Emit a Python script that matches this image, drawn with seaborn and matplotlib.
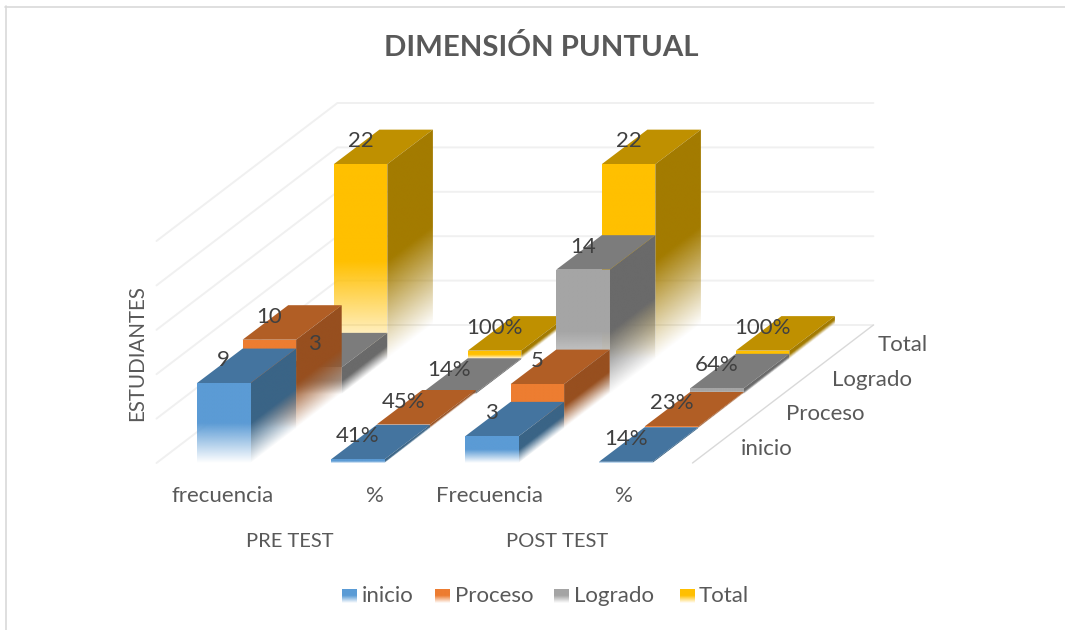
"""
Dimensión puntual : barres 3D (pre test / post test) en projection oblique
"""

import numpy as np
import matplotlib.pyplot as plt
from matplotlib.colors import to_rgb
from matplotlib.lines import Line2D
from matplotlib.patches import Polygon
from matplotlib.transforms import Affine2D
import seaborn as sns

# Données
CATEGORIES = ['frecuencia', '%', 'Frecuencia', '%']
GROUPS = ['PRE TEST', 'POST TEST']
SERIES = ['inicio', 'Proceso', 'Logrado', 'Total']
inicio = [9, 0.41, 3, 0.14]
proceso = [10, 0.45, 5, 0.23]
logrado = [3, 0.14, 14, 0.64]
total = [22, 1.00, 22, 1.00]
inicio_labels = ['9', '41%', '3', '14%']
proceso_labels = ['10', '45%', '5', '23%']
logrado_labels = ['3', '14%', '14', '64%']
total_labels = ['22', '100%', '22', '100%']
VALUE_TICKS = [0, 5, 10, 15, 20, 25]

# Couleurs (face avant, dessus, côté)
FRONT = sns.color_palette(['#5B9BD5', '#ED7D31', '#A5A5A5', '#FFC000'])
TOP = sns.color_palette(['#44749F', '#B15E25', '#7C7C7C', '#BF9000'])
SIDE = sns.color_palette(['#3A6486', '#974F1F', '#6A6A6A', '#A37B00'])
TEXT = '#595959'
LABEL = '#404040'

# Géométrie en pixels
W, H = 1065, 630
CELL = 134.0
UNIT = 8.88
X0, Y0 = 156.5, 463.0
ROW_DX, ROW_DY = 45.6, 34.5
BAR_W = 53.5 / CELL
BAR_OFF = 40.5 / CELL

# Positions des textes en pixels
CATEGORY_X = [223, 375, 490, 624]
GROUP_X = [290, 557]
SERIES_POS = [(767, 449), (825, 414), (872, 380), (903, 345)]
LEGEND_SWATCH_X = [342, 435, 554, 680]
LEGEND_TEXT_X = [362, 455, 574, 699]

sns.set_theme(style='white')
plt.rcParams['font.family'] = ['Lato', 'DejaVu Sans']

fig = plt.figure(figsize=(W / 100, H / 100), dpi=100, facecolor='white')
ax = fig.add_axes([0, 0, 1, 1])
ax.axis('off')
pixels = Affine2D().scale(1 / W, -1 / H).translate(0, 1) + fig.transFigure
row_dx, row_dy = ROW_DX / CELL, ROW_DY / UNIT


def data_x(px):
    return (px - X0) / CELL


def data_y(py):
    return (Y0 - py) / UNIT


def gradient_face(pts, color, rise, zorder):
    """Face qui s'efface vers le bas ; rise = pente des isolignes"""
    pts = np.array(pts)
    x0, x1 = pts[:, 0].min(), pts[:, 0].max()
    y0, y1 = pts[:, 1].min(), pts[:, 1].max()
    height = y1 - y0 - rise * (x1 - x0)
    xs, ys = np.meshgrid(np.linspace(x0, x1, 60), np.linspace(y0, y1, 300))
    level = (ys - y0 - rise * (xs - x0)) / max(height, 1e-6)
    rgba = np.ones(xs.shape + (4,))
    rgba[..., :3] = to_rgb(color)
    rgba[..., 3] = np.clip(level / 0.5, 0, 1)
    img = ax.imshow(rgba, extent=(x0, x1, y0, y1), origin='lower', aspect='auto',
                    interpolation='bilinear', zorder=zorder)
    img.set_clip_path(Polygon(pts, closed=True, transform=ax.transData))


def draw_bar(col, row, value, series, zorder):
    x = col + BAR_OFF + row * row_dx
    base = row * row_dy
    top = base + value
    w = BAR_W
    # dessus
    ax.fill([x, x + w, x + w + row_dx, x + row_dx], [top, top, top + row_dy, top + row_dy],
            color=TOP[series], lw=0, zorder=zorder)
    # côté
    gradient_face([(x + w, base), (x + w + row_dx, base + row_dy),
                   (x + w + row_dx, top + row_dy), (x + w, top)],
                  SIDE[series], row_dy / row_dx, zorder)
    # avant
    gradient_face([(x, base), (x + w, base), (x + w, top), (x, top)],
                  FRONT[series], 0, zorder + 0.1)


# Murs : lignes de la grille
wall_x = 4 * row_dx - 1.5 / CELL
wall_y = 4 * row_dy
for tick in VALUE_TICKS:
    ax.plot([0, wall_x, 4 + wall_x], [tick, tick + wall_y, tick + wall_y],
            color='#F0F0F0', lw=1.4, zorder=0.5, solid_joinstyle='miter')
ax.plot([4, 4 + wall_x], [0, wall_y], color='#D9D9D9', lw=1.0, zorder=0.6)

# Barres : du fond vers l'avant
values = [inicio, proceso, logrado, total]
labels = [inicio_labels, proceso_labels, logrado_labels, total_labels]
for row in range(3, -1, -1):
    for col, value in enumerate(values[row]):
        draw_bar(col, row, value, row, 10 + (3 - row) * 10 + col)

# Étiquettes de valeur
for row in range(4):
    for col, value in enumerate(values[row]):
        ax.text(col + BAR_OFF + row * row_dx + BAR_W / 2,
                row * row_dy + value + 23 / UNIT, labels[row][col],
                ha='center', va='center', fontsize=16, color=LABEL, zorder=100)

# Axes
for name, px in zip(CATEGORIES, CATEGORY_X):
    ax.text(data_x(px), data_y(496.5), name, ha='center', va='center',
            fontsize=16, color=TEXT)
for name, px in zip(GROUPS, GROUP_X):
    ax.text(data_x(px), data_y(541.5), name, ha='center', va='center',
            fontsize=14.5, color=TEXT)
for name, (px, py) in zip(SERIES, SERIES_POS):
    ax.text(data_x(px), data_y(py), name, ha='center', va='center',
            fontsize=16, color=TEXT)
ax.text(data_x(137), data_y(353), 'ESTUDIANTES', rotation=90, ha='center', va='center',
        fontsize=14.8, color=TEXT)

# Titre
ax.text(data_x(541), data_y(48), 'DIMENSIÓN PUNTUAL', ha='center', va='center',
        fontsize=21.2, fontweight='bold', color=TEXT)

# Légende
for name, color, sx, tx in zip(SERIES, FRONT, LEGEND_SWATCH_X, LEGEND_TEXT_X):
    xs, ys = data_x(sx), data_y(603.5)
    gradient_face([(xs, ys), (xs + 15 / CELL, ys), (xs + 15 / CELL, ys + 14.5 / UNIT), (xs, ys + 14.5 / UNIT)],
                  color, 0, 5)
    ax.text(data_x(tx), data_y(596.5), name, ha='left', va='center', fontsize=16, color=TEXT)

# Cadre
fig.add_artist(Line2D([5, 1065], [6.5, 6.5], color='#D9D9D9', lw=1.2, transform=pixels))
fig.add_artist(Line2D([5.5, 5.5], [6, 630], color='#D9D9D9', lw=1.2, transform=pixels))

ax.set_xlim(data_x(0), data_x(W))
ax.set_ylim(data_y(H), data_y(0))

plt.savefig('out.png', dpi=100)
plt.close()
